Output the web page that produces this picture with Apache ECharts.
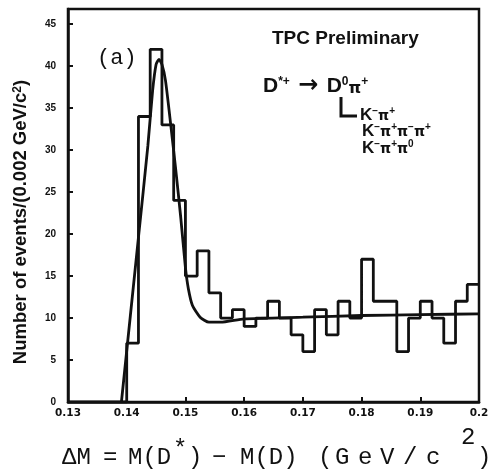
<!DOCTYPE html>
<html>
<head>
<meta charset="utf-8">
<script src="https://cdn.jsdelivr.net/npm/echarts@6/dist/echarts.min.js"></script>
<style>
  html, body { margin: 0; padding: 0; background: #fff; }
  #chart { width: 492px; height: 474px; }
</style>
</head>
<body>
<div id="chart"></div>
<script>
// D*+ - D0 mass difference, events per 0.002 GeV/c^2 bin starting at 0.130
const binStart = 0.130;
const binWidth = 0.002;
const counts = [0, 0, 0, 0, 0,
  7, 34, 42, 33, 24, 15, 18, 13, 10, 11,
  9, 10, 12, 10, 8, 6, 11, 8, 12, 10,
  17, 12, 12, 6, 10, 12, 10, 7, 12, 14];

// Fitted signal + background curve
const fitX = [0.1391, 0.1420, 0.1436, 0.1444, 0.1450, 0.1455, 0.1460, 0.1466, 0.1475, 0.1483,
  0.1492, 0.1500, 0.1505, 0.1512, 0.1525, 0.1540, 0.1560, 0.1600, 0.1700, 0.1800,
  0.1900, 0.2000];
const fitY = [0, 19.6, 30.5, 37, 40.2, 40.8, 40.2, 38.3, 33, 28,
  22, 16, 13.5, 11.5, 10.1, 9.5, 9.5, 9.9, 10.1, 10.3,
  10.4, 10.5];

const xTickLabels = ['0.13', '0.14', '0.15', '0.16', '0.17', '0.18', '0.19', '0.2'];
const yTickLabels = ['0', '5', '10', '15', '20', '25', '30', '35', '40', '45'];

const INK = '#111';

// step line through bin edges
const histData = counts.map((c, i) => [+(binStart + i * binWidth).toFixed(3), c]);
histData.push([+(binStart + counts.length * binWidth).toFixed(3), counts[counts.length - 1]]);

const fitData = fitX.map((x, i) => [x, fitY[i]]);

// typewriter-style axis title, laid out piece by piece: [text, left, raised]
const titlePieces = [
  ['ΔM', 62, false], ['=', 103, false], ['M(D', 128, false], ['*', 173, true], [')', 188, false],
  ['−', 212, false], ['M(D)', 240, false],
  ['(', 318, false], ['G', 335, false], ['e', 358, false], ['V', 380, false], ['/', 403, false],
  ['c', 426, false], ['2', 461, true], [')', 477, false]
];

const chart = echarts.init(document.getElementById('chart'), null, { renderer: 'canvas' });

const supStyle = (size, family, weight) => ({
  fontSize: size, fontFamily: family, fontWeight: weight, fill: INK, verticalAlign: 'top'
});
const piStyle = size => ({ fontSize: size, fontWeight: 'bold', fontFamily: 'DejaVu Sans', fill: INK, verticalAlign: 'bottom' });

function label(x, y, text, font, rich) {
  return {
    type: 'text', x: x, y: y,
    style: {
      text: text, font: font, fill: INK,
      align: 'left', verticalAlign: 'middle', textAlign: 'left', textVerticalAlign: 'middle',
      rich: rich
    }
  };
}

const graphics = [
  {
    type: 'text', x: 21, y: 222, rotation: Math.PI / 2,
    style: {
      text: 'Number of events/(0.002 GeV/c{s|2})',
      font: 'bold 18.5px "Liberation Sans"', fill: INK,
      align: 'center', verticalAlign: 'middle', textAlign: 'center', textVerticalAlign: 'middle',
      rich: { s: supStyle(12, 'Liberation Sans', 'bold') }
    }
  },
  label(97, 58, '(a)', '22px "Liberation Mono"'),
  label(272, 39, 'TPC Preliminary', 'bold 19px "Liberation Sans"'),
  label(263, 86, 'D{s|*+}{a| → }D{s|0}{p|π}{s|+}', 'bold 21px "Liberation Sans"',
    {
      s: supStyle(12, 'Liberation Sans', 'bold'), p: piStyle(16),
      a: { fontSize: 24, lineHeight: 20, fontWeight: 'bold', fontFamily: 'DejaVu Sans', fill: INK, verticalAlign: 'middle' }
    }),
  {
    type: 'polyline',
    shape: { points: [[341, 97], [341, 116], [357, 116]] },
    style: { stroke: INK, lineWidth: 3, fill: null }
  },
  label(360, 115, 'K{s|−}{p|π}{s|+}', 'bold 17px "Liberation Sans"',
    { s: supStyle(10, 'Liberation Sans', 'bold'), p: piStyle(14) }),
  label(362, 131, 'K{s|−}{p|π}{s|+}{p|π}{s|−}{p|π}{s|+}', 'bold 17px "Liberation Sans"',
    { s: supStyle(10, 'Liberation Sans', 'bold'), p: piStyle(14) }),
  label(362, 148, 'K{s|−}{p|π}{s|+}{p|π}{s|0}', 'bold 17px "Liberation Sans"',
    { s: supStyle(10, 'Liberation Sans', 'bold'), p: piStyle(14) })
];
titlePieces.forEach(([t, x, sup]) => {
  graphics.push(label(x, sup ? (t === '*' ? 450 : 438) : 458, t, '24px "Liberation Mono"'));
});

chart.setOption({
  animation: false,
  backgroundColor: '#fff',
  grid: {
    left: 68, right: 13, top: 9, bottom: 72,
    show: true, borderColor: INK, borderWidth: 2.5, backgroundColor: 'transparent'
  },
  xAxis: {
    type: 'value',
    min: 0.13, max: 0.20, interval: 0.01,
    axisLine: { lineStyle: { color: INK, width: 2.5 } },
    axisTick: { inside: true, length: 5, lineStyle: { color: INK, width: 2 } },
    splitLine: { show: false },
    axisLabel: {
      margin: 6,
      color: INK, fontSize: 10.5, fontWeight: 'bold', fontFamily: 'DejaVu Sans',
      formatter: v => xTickLabels[Math.round((v - 0.13) / 0.01)] || ''
    }
  },
  yAxis: {
    type: 'value',
    min: 0, max: 46.8, interval: 5,
    axisLine: { lineStyle: { color: INK, width: 2.5 } },
    axisTick: { inside: true, length: 5, lineStyle: { color: INK, width: 2 } },
    splitLine: { show: false },
    axisLabel: {
      margin: 12, showMaxLabel: false,
      color: INK, fontSize: 10, fontWeight: 'bold', fontFamily: 'Liberation Sans',
      formatter: v => (Math.abs(v / 5 - Math.round(v / 5)) < 1e-6 ? (yTickLabels[Math.round(v / 5)] || '') : '')
    }
  },
  series: [
    {
      type: 'line', name: 'data', data: histData, step: 'end',
      symbol: 'none', lineStyle: { color: INK, width: 2.8 }, z: 3
    },
    {
      type: 'line', name: 'fit', data: fitData, smooth: 0.2,
      symbol: 'none', lineStyle: { color: INK, width: 2.8 }, z: 4
    }
  ],
  graphic: graphics
});
</script>
</body>
</html>
